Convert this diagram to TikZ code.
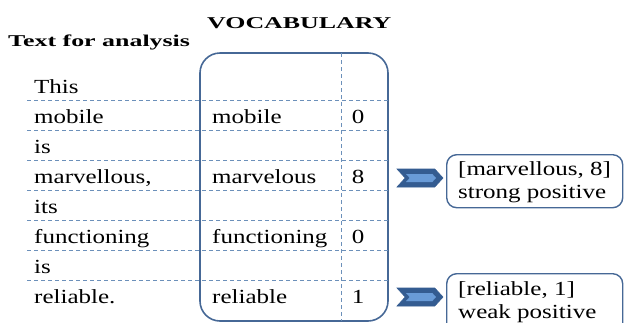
\documentclass[tikz,border=0pt]{standalone}
\usepackage{fontspec}
\usetikzlibrary{shapes.symbols}
\setmainfont{Liberation Serif}
% horizontally widened text, as set in the layout
\newcommand\wtxt[1]{\scalebox{1.25}[1]{#1}}
\newcommand\wttl[1]{\scalebox{1.57}[1]{#1}}
\definecolor{frameblue}{RGB}{70,104,150}
\definecolor{gridblue}{RGB}{108,144,186}
\definecolor{chevdark}{RGB}{52,92,145}
\definecolor{chevlight}{RGB}{105,155,215}
\begin{document}
\begin{tikzpicture}[x=1pt,y=-1pt,
  word/.style={anchor=base west,inner sep=0pt,font=\rmfamily\fontsize{20}{24}\selectfont},
  score/.style={anchor=base,inner sep=0pt,font=\rmfamily\fontsize{20}{24}\selectfont},
  title/.style={anchor=base west,inner sep=0pt,font=\rmfamily\bfseries\fontsize{16.5}{20}\selectfont},
  gridline/.style={draw=gridblue,line width=1pt,dash pattern=on 4pt off 3pt},
  frame/.style={draw=frameblue,line width=1.6pt,rounded corners=20pt},
  result/.style={draw=frameblue,line width=1.4pt,rounded corners=10pt,fill=white},
  chevron/.style={signal,signal from=west,signal to=east,signal pointer angle=95,
    draw=chevdark,line width=0.6pt,fill=chevdark,inner sep=0pt,
    minimum width=46pt,minimum height=18pt},
  chevcore/.style={signal,signal from=west,signal to=east,signal pointer angle=95,
    fill=chevlight,inner sep=0pt,minimum width=30pt,minimum height=8pt}
]
\useasboundingbox (0,0) rectangle (624,322);
\clip (0,0) rectangle (624,322);

% headings
\node[title] (hvocab) at (207,28) {\wttl{VOCABULARY}};
\node[title] (htext) at (8,46) {\wttl{Text for analysis}};

% vocabulary frame and its column divider
\draw[frame] (200,53) rectangle (388,321);
\coordinate (divtop) at (341,53);
\coordinate (divbot) at (341,321);
\draw[gridline] (divtop) -- (divbot);

% row separators
\foreach \k in {0,...,6}{
  \coordinate (gl\k) at (27,100+30*\k);
  \coordinate (gr\k) at (388,100+30*\k);
  \draw[gridline] (gl\k) -- (gr\k);
}

% analysed text, one word per row
\node[word] (w1) at (34,93)  {\wtxt{This}};
\node[word] (w2) at (34,123) {\wtxt{mobile}};
\node[word] (w3) at (34,153) {\wtxt{is}};
\node[word] (w4) at (34,183) {\wtxt{marvellous,}};
\node[word] (w5) at (34,213) {\wtxt{its}};
\node[word] (w6) at (34,243) {\wtxt{functioning}};
\node[word] (w7) at (34,273) {\wtxt{is}};
\node[word] (w8) at (34,303) {\wtxt{reliable.}};

% vocabulary entries and their scores
\node[word] (v2) at (212,123) {\wtxt{mobile}};
\node[word] (v4) at (212,183) {\wtxt{marvelous}};
\node[word] (v6) at (212,243) {\wtxt{functioning}};
\node[word] (v8) at (212,303) {\wtxt{reliable}};
\node[score] (s2) at (358,123) {\wtxt{0}};
\node[score] (s4) at (358,183) {\wtxt{8}};
\node[score] (s6) at (358,243) {\wtxt{0}};
\node[score] (s8) at (358,303) {\wtxt{1}};

% results
\node[result,anchor=north west,minimum width=176pt,minimum height=53pt] (r1) at (446,154) {};
\node[word] (r1a) at (458,175) {\wtxt{[marvellous, 8]}};
\node[word] (r1b) at (458,198) {\wtxt{strong positive}};
\node[result,anchor=north west,minimum width=176pt,minimum height=70pt] (r2) at (446,273) {};
\node[word] (r2a) at (458,295) {\wtxt{[reliable, 1]}};
\node[word] (r2b) at (458,318) {\wtxt{weak positive}};

% chevron pointers
\node[chevron] (c1) at (420,178) {};
\node[chevcore] (c1i) at (421,178) {};
\node[chevron] (c2) at (420,297) {};
\node[chevcore] (c2i) at (421,297) {};
\end{tikzpicture}
\end{document}
